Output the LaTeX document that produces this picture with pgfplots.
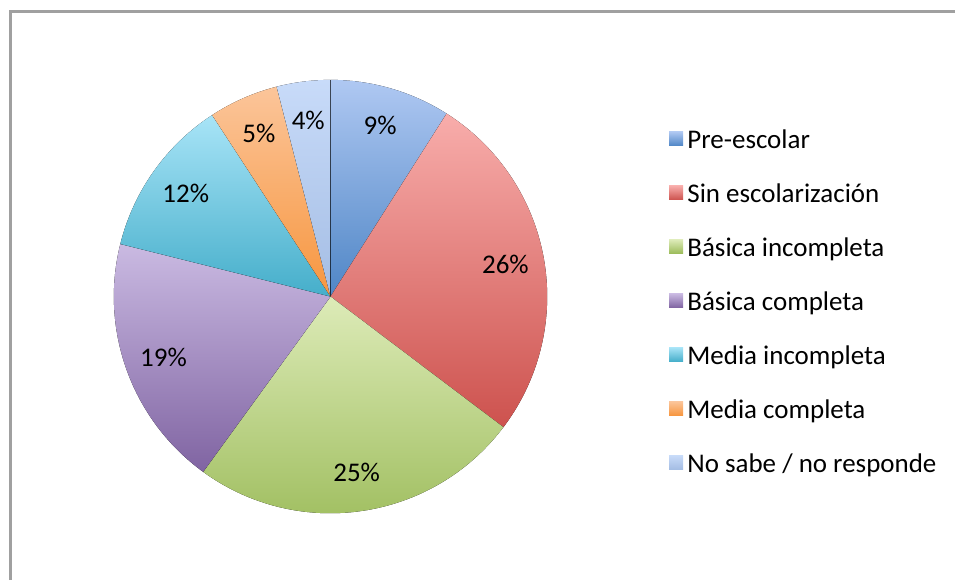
\documentclass[border=0pt]{standalone}
\usepackage{pgfplots}
\pgfplotsset{compat=1.18}
\usepackage{pgfplotstable}
\usepackage{fontspec}
\setmainfont{Carlito}

% slice colours: top (light) and bottom (dark) of each vertical gradient
\definecolor{c0t}{HTML}{AFC8F2}\definecolor{c0b}{HTML}{4F86C6}
\definecolor{c1t}{HTML}{F8ADAB}\definecolor{c1b}{HTML}{CD524E}
\definecolor{c2t}{HTML}{DDEBB8}\definecolor{c2b}{HTML}{9BBB59}
\definecolor{c3t}{HTML}{CABAE2}\definecolor{c3b}{HTML}{8064A2}
\definecolor{c4t}{HTML}{A8E4F7}\definecolor{c4b}{HTML}{45AECA}
\definecolor{c5t}{HTML}{FBC59A}\definecolor{c5b}{HTML}{F7963F}
\definecolor{c6t}{HTML}{C8DBF9}\definecolor{c6b}{HTML}{A4BDE4}
\definecolor{frame}{RGB}{160,160,160}

\pgfplotstableread[col sep=comma]{
label,pct,shown
Pre-escolar,9.0,9
Sin escolarización,26.3,26
Básica incompleta,24.7,25
Básica completa,18.9,19
Media incompleta,11.9,12
Media completa,5.2,5
No sabe / no responde,4.0,4
}\piedata

\begin{document}
\begin{tikzpicture}
\begin{axis}[
    hide axis,
    scale only axis,
    x=0.5pt, y=0.5pt,
    xmin=0, xmax=956, ymin=0, ymax=581,
    clip=false,
]
\pgfplotsextra{
  \path (axis cs:0,0) rectangle (axis cs:956,581);
  % chart frame (only left and top edges fall inside the picture)
  \draw[frame, line width=1.4pt] (axis cs:10.5,0) -- (axis cs:10.5,569.5) -- (axis cs:956,569.5);
  \xdef\ang{90}
  \foreach \i in {0,...,6} {
    \pgfplotstablegetelem{\i}{pct}\of\piedata \let\p\pgfplotsretval
    \pgfplotstablegetelem{\i}{shown}\of\piedata \let\s\pgfplotsretval
    \pgfplotstablegetelem{\i}{label}\of\piedata \let\l\pgfplotsretval
    \pgfmathsetmacro\a{\ang}
    \pgfmathsetmacro\b{\ang-3.6*\p}
    \pgfmathsetmacro\m{(\a+\b)/2}
    \fill[top color=c\i t, bottom color=c\i b]
      (axis cs:331,284) -- ++(\a:108.5pt) arc[start angle=\a, end angle=\b, radius=108.5pt] -- cycle;
    \path (axis cs:331,284) ++(\m:89pt) node[font=\fontsize{13.5}{16}\selectfont] {\s\%};
    % legend entry
    \pgfmathsetmacro\yc{581-139-54*\i}
    \fill[top color=c\i t, bottom color=c\i b] (axis cs:670,\yc-7) rectangle (axis cs:684,\yc+7);
    \node[anchor=base west, inner sep=0pt, font=\fontsize{13.5}{16}\selectfont] at (axis cs:688,\yc-10) {\l};
    \xdef\ang{\b}
  }
}
\end{axis}
\end{tikzpicture}
\end{document}
